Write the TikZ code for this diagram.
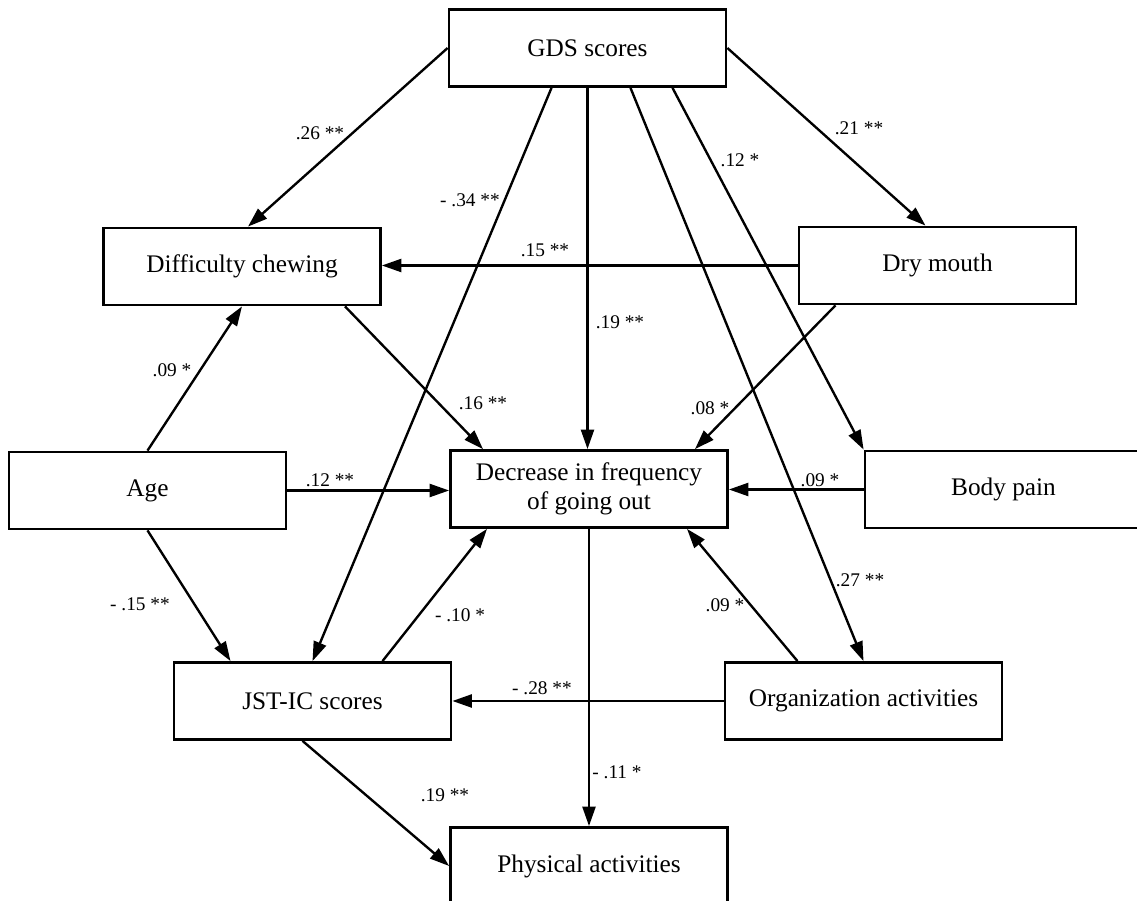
\documentclass[tikz,border=0pt]{standalone}
\usepackage{fontspec}
\setmainfont{Liberation Serif}
\usetikzlibrary{arrows.meta,calc}

\begin{document}
\begin{tikzpicture}[
  x=0.02cm, y=-0.02cm,
  var/.style={
    rectangle,
    draw,
    line width=1.6pt,
    minimum width=5.54cm,
    minimum height=1.54cm,
    align=center,
    font=\fontsize{14.4}{16.5}\selectfont
  },
  link/.style={
    line width=1.35pt,
    -{Triangle[length=3.9mm,width=2.6mm]}
  },
  coef/.style={
    font=\fontsize{11}{13}\selectfont,
    inner sep=1pt
  }
]
  \useasboundingbox (0,0) rectangle (1137,901);
  \clip (0,0) rectangle (1137,901);

  \node[var] (gds) at (587.5,48) {GDS scores};
  \node[var] (chew) at (242,266.5) {Difficulty chewing};
  \node[var] (dry) at (937.5,265.5) {Dry mouth};
  \node[var] (age) at (147.5,490.5) {Age};
  \node[var] (dec) at (589,489) {Decrease in frequency\\of going out};
  \node[var] (pain) at (1003.5,489.5) {Body pain};
  \node[var] (jst) at (312.5,701) {JST-IC scores};
  \node[var] (org) at (863.5,701) {Organization activities};
  \node[var] (phys) at (589,866) {Physical activities};

  \draw[link] (gds.west) -- ($(chew.north)+(6,0)$);
  \draw[link] (gds.east) -- ($(dry.north)+(-12,0)$);
  \draw[link] ($(gds.south)+(-36,0)$) -- (jst.north);
  \draw[link] (gds.south) -- (gds.south |- dec.north);
  \draw[link] ($(gds.south)+(85,0)$) -- (pain.north west);
  \draw[link] ($(gds.south)+(43,0)$) -- (org.north);
  \draw[link] (dry.west) -- (dry.west -| chew.east);
  \draw[link] ($(chew.south)+(103,0)$) -- ($(dec.north)+(-106,0)$);
  \draw[link] ($(dry.south)+(-102,0)$) -- ($(dec.north)+(106,0)$);
  \draw[link] (age.north) -- (chew.south);
  \draw[link] (age.east) -- (age.east -| dec.west);
  \draw[link] (pain.west) -- (pain.west -| dec.east);
  \draw[link] (age.south) -- ($(jst.north)+(-82,0)$);
  \draw[link] ($(jst.north)+(70,0)$) -- ($(dec.south)+(-102,0)$);
  \draw[link] ($(org.north)+(-66,0)$) -- ($(dec.south)+(98,0)$);
  \draw[link] (org.west) -- (org.west -| jst.east);
  \draw[link] (dec.south) -- (dec.south |- phys.north);
  \draw[link] ($(jst.south)+(-10,0)$) -- (phys.west);

  \node[coef] (c1) at (320,133) {.26 **};
  \node[coef] (c2) at (859,128) {.21 **};
  \node[coef] (c3) at (470,200) {- .34 **};
  \node[coef] (c4) at (620,322) {.19 **};
  \node[coef] (c5) at (740,160) {.12 *};
  \node[coef] (c6) at (860,580) {.27 **};
  \node[coef] (c7) at (545,250) {.15 **};
  \node[coef] (c8) at (483,403) {.16 **};
  \node[coef] (c9) at (710,408) {.08 *};
  \node[coef] (c10) at (172,370) {.09 *};
  \node[coef] (c11) at (330,480) {.12 **};
  \node[coef] (c12) at (820,480) {.09 *};
  \node[coef] (c13) at (140,604) {- .15 **};
  \node[coef] (c14) at (460,615) {- .10 *};
  \node[coef] (c15) at (725,605) {.09 *};
  \node[coef] (c16) at (542,688) {- .28 **};
  \node[coef] (c17) at (617,772) {- .11 *};
  \node[coef] (c18) at (445,795) {.19 **};
\end{tikzpicture}
\end{document}
